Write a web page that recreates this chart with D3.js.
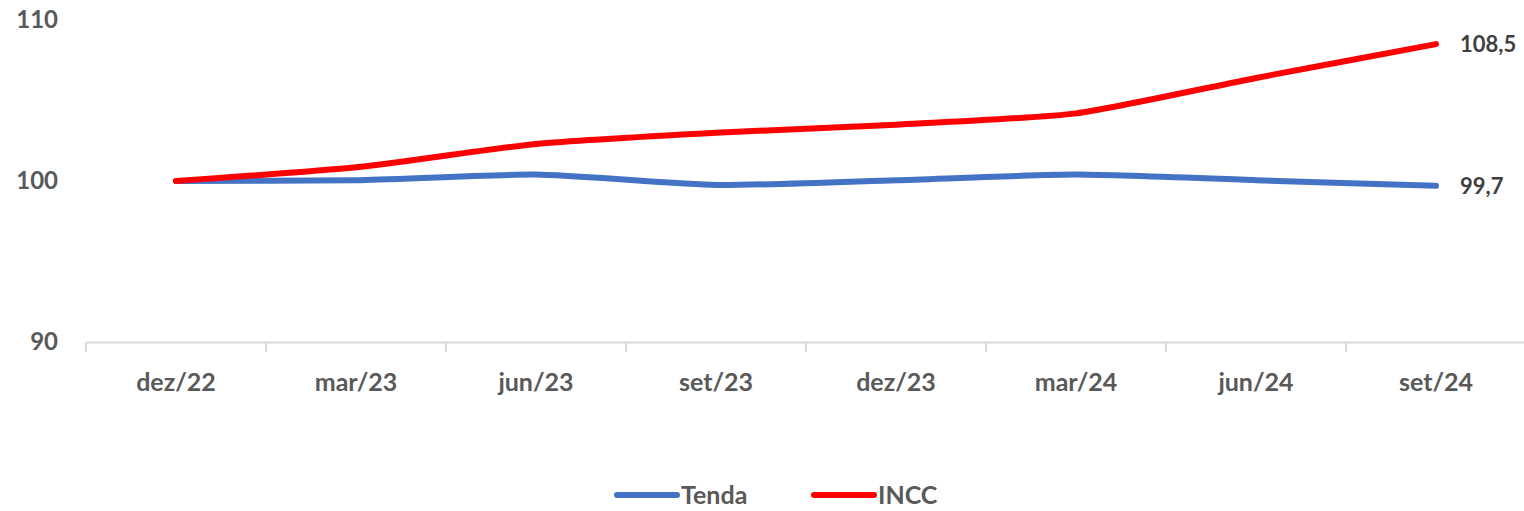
<!DOCTYPE html>
<html>
<head>
<meta charset="utf-8">
<script src="https://cdn.jsdelivr.net/npm/d3@7"></script>
<style>
  body { margin: 0; background: #fff; }
  text { font-family: Lato, "Open Sans", sans-serif; font-weight: bold; fill: #595959; }
</style>
</head>
<body>
<div id="chart"></div>
<script>
// chart data
const categories = ["dez/22", "mar/23", "jun/23", "set/23", "dez/23", "mar/24", "jun/24", "set/24"];
const tenda = [100, 100.05, 100.4, 99.75, 100.05, 100.4, 100.05, 99.7];
const incc = [100, 100.85, 102.3, 103.0, 103.5, 104.2, 106.4, 108.5];
const yTicks = [90, 100, 110];

const width = 1524;
const height = 511;

const svg = d3.select("#chart").append("svg")
    .attr("width", width)
    .attr("height", height);

// scales
const x = d3.scaleBand()
    .domain(categories)
    .range([86, 1526]);

const y = d3.scaleLinear()
    .domain([90, 110])
    .range([342, 20]);

// x axis
const xAxis = svg.append("g")
    .attr("transform", `translate(0,${y(90)})`)
    .call(d3.axisBottom(x).tickSize(0).tickPadding(31));
xAxis.select(".domain").attr("stroke", "#d9d9d9").attr("stroke-width", 2);
xAxis.selectAll("text").attr("font-size", 25).style("font-family", "Lato, sans-serif");

// tick marks between categories
svg.append("g")
    .selectAll("line")
    .data(categories)
    .join("line")
    .attr("x1", d => x(d))
    .attr("x2", d => x(d))
    .attr("y1", y(90))
    .attr("y2", y(90) + 10)
    .attr("stroke", "#d9d9d9")
    .attr("stroke-width", 2);

// y labels
svg.append("g")
    .selectAll("text")
    .data(yTicks)
    .join("text")
    .attr("x", 58)
    .attr("y", d => y(d))
    .attr("dy", "0.35em")
    .attr("text-anchor", "end")
    .attr("font-size", 24)
    .text(d => d);

const line = d3.line()
    .x((d, i) => x(categories[i]) + x.bandwidth() / 2)
    .y(d => y(d))
    .curve(d3.curveCardinal.tension(0.4));

const series = [
    { name: "Tenda", values: tenda, color: "#4472c4", label: "99,7" },
    { name: "INCC", values: incc, color: "#ff0000", label: "108,5" }
];

series.forEach(s => {
    svg.append("path")
        .datum(s.values)
        .attr("d", line)
        .attr("fill", "none")
        .attr("stroke", s.color)
        .attr("stroke-width", 6)
        .attr("stroke-linecap", "round");

    // end label
    const last = s.values.length - 1;
    svg.append("text")
        .attr("x", x(categories[last]) + x.bandwidth() / 2 + 24)
        .attr("y", y(s.values[last]))
        .attr("dy", "0.35em")
        .attr("font-size", 22)
        .style("fill", "#404040")
        .text(s.label);
});

// legend
const legendX = [617, 814];
series.forEach((s, i) => {
    const g = svg.append("g").attr("transform", `translate(${legendX[i]},495)`);
    g.append("line")
        .attr("x1", 0).attr("x2", 60)
        .attr("stroke", s.color)
        .attr("stroke-width", 6)
        .attr("stroke-linecap", "round");
    g.append("text")
        .attr("x", 64)
        .attr("dy", "0.35em")
        .attr("font-size", 25)
        .text(s.name);
});
</script>
</body>
</html>
